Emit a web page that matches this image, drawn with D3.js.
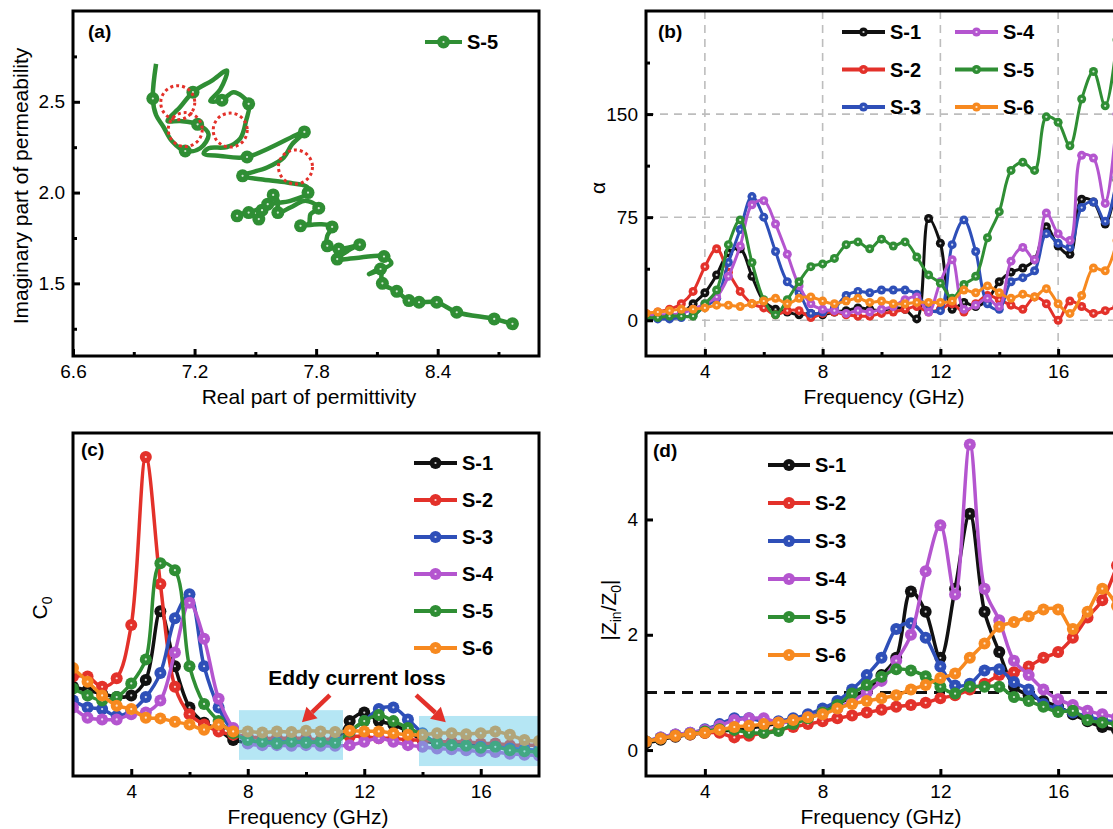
<!DOCTYPE html>
<meta charset="utf-8">
<script src="https://d3js.org/d3.v7.min.js"></script>
<style>
  body{margin:0;background:#fff;}
  svg text{font-family:"Liberation Sans",Arial,Helvetica,sans-serif;}
</style>
<div id="chart"></div>
<script>
// ---------- data ----------
var names = ["S-1","S-2","S-3","S-4","S-5","S-6"]
var colors = ["#111111","#E3312A","#2E4FB8","#B455CF","#2F8E34","#F7891F"]

// (a) Cole-Cole style path for S-5 : real part of permittivity vs imaginary part of permeability
var aPathReal = [7.010,6.994,7.010,7.047,7.088,7.154,7.228,7.269,7.215,7.129,7.067,7.129,7.192,7.286,7.360,7.327,7.278,7.335,7.393,7.467,
  7.454,7.426,7.360,7.269,7.245,7.327,7.459,7.742,7.681,7.640,7.558,7.437,7.525,7.657,7.756,7.760,7.673,7.574,7.541,7.410,
  7.467,7.517,7.533,7.561,7.588,7.611,7.611,7.673,7.739,7.780,7.813,7.772,7.764,7.723,7.822,7.879,7.855,7.855,7.912,7.962,
  8.015,7.962,7.904,8.019,8.135,8.171,8.061,8.118,8.127,8.198,8.258,8.308,8.395,8.494,8.679,8.769]
var aPathImag = [2.709,2.518,2.427,2.361,2.284,2.229,2.244,2.321,2.376,2.394,2.394,2.471,2.553,2.617,2.672,2.568,2.504,2.509,2.553,2.489,
  2.394,2.299,2.251,2.244,2.215,2.202,2.196,2.334,2.266,2.193,2.138,2.092,2.073,2.055,2.031,2.000,1.954,1.936,1.918,1.872,
  1.890,1.854,1.903,1.936,1.987,1.954,1.890,1.918,1.954,1.945,1.914,1.881,1.830,1.817,1.826,1.811,1.762,1.707,1.689,1.698,
  1.713,1.683,1.634,1.643,1.648,1.610,1.551,1.579,1.500,1.456,1.405,1.396,1.396,1.341,1.304,1.277]
var aMarkReal = [6.994,7.154,7.215,7.192,7.335,7.467,7.459,7.742,7.437,7.760,7.410,7.467,7.517,7.533,7.561,7.588,7.611,7.813,
  7.723,7.879,7.855,7.912,8.015,7.904,8.135,8.118,8.127,8.198,8.258,8.308,8.395,8.494,8.679,8.769]
var aMarkImag = [2.518,2.229,2.376,2.553,2.509,2.489,2.196,2.334,2.092,2.000,1.872,1.890,1.854,1.903,1.936,1.987,1.890,1.914,
  1.817,1.811,1.707,1.689,1.713,1.634,1.648,1.579,1.500,1.456,1.405,1.396,1.396,1.341,1.304,1.277]
var aCircleReal = [7.117,7.154,7.376,7.698]
var aCircleImag = [2.495,2.347,2.344,2.141]

// (b) attenuation constant alpha
var bFreq = [2,2.4,2.8,3.2,3.6,4,4.4,4.8,5.2,5.6,6,6.4,6.8,7.2,7.6,8,8.4,8.8,9.2,9.6,10,10.4,10.8,11.2,11.6,12,
  12.4,12.8,13.2,13.6,14,14.4,14.8,15.2,15.6,16,16.4,16.8,17.2,17.6,18]
var bS1 = [2,2,3,5,12,20,33,49,52,32,14,8,6,4,5,4,6,7,9,8,7,9,8,1,74,56,8,13,10,15,28,35,38,44,68,54,48,88,86,70,102]
var bS2 = [5,6,8,12,21,39,52,35,21,12,9,4,7,7,2,5,6,4,3,3,5,6,8,10,6,8,12,6,12,18,15,11,8,17,12,0,14,10,5,7,10]
var bS3 = [2,1,1,2,4,10,16,42,66,90,75,50,28,20,5,6,9,18,21,20,22,22,22,19,8,7,55,73,50,12,8,28,31,36,63,56,53,82,86,72,104]
var bS4 = [3,4,4,5,8,12,17,32,54,84,87,70,48,25,12,8,7,5,7,6,8,10,15,17,6,28,44,8,11,16,10,43,53,44,78,63,58,120,118,85,150]
var bS5 = [2,2,3,3,3,12,22,55,73,42,15,4,15,28,39,41,45,55,57,52,59,54,57,46,33,27,16,26,32,60,79,109,115,109,148,144,127,161,181,156,204]
var bS6 = [5,6,7,8,8,9,11,11,10,12,14,16,12,16,17,14,12,14,16,13,14,12,12,13,13,13,14,22,20,25,20,16,19,17,23,12,5,18,38,36,58]

// (c) C0 (arbitrary units, no ticks on the axis) and (d) |Zin/Z0|
var cdFreq = [2,2.5,3,3.5,4,4.5,5,5.5,6,6.5,7,7.5,8,8.5,9,9.5,10,10.5,11,11.5,12,12.5,13,13.5,14,14.5,15,15.5,16,16.5,17,17.5,18]
var cS1 = [2.6,2.5,2.4,2.3,2.35,2.8,4.8,3.2,2.0,1.55,1.35,1.05,0.98,1.0,0.98,1.0,0.98,0.95,0.98,1.6,1.85,1.6,1.5,1.3,1.05,0.95,0.92,0.9,0.88,0.88,0.8,0.75,0.72]
var cS2 = [2.9,2.9,2.6,2.85,4.4,9.3,5.6,2.6,1.8,1.5,1.3,1.2,1.15,1.1,1.1,1.1,1.1,1.05,1.1,1.15,1.15,1.1,1.1,1.05,1.05,1.0,1.0,1.0,0.95,0.95,0.9,0.9,0.9]
var cS3 = [2.2,2.0,1.95,1.75,1.9,2.3,3.0,4.6,5.3,3.2,2.0,1.3,1.05,1.0,0.98,1.0,1.0,0.98,1.0,1.3,1.6,1.95,2.0,1.65,1.25,0.95,0.9,0.88,0.85,0.85,0.8,0.78,0.75]
var cS4 = [2.0,1.7,1.65,1.65,1.8,1.85,2.2,3.6,5.05,4.0,2.25,1.4,0.95,0.9,0.9,0.88,0.9,0.88,0.88,0.9,1.0,1.1,1.0,0.9,0.85,0.8,0.78,0.75,0.72,0.7,0.65,0.62,0.6]
var cS5 = [2.55,2.35,2.2,2.3,2.7,3.4,6.2,6.0,3.2,2.1,1.6,1.25,1.05,1.0,0.95,1.0,0.97,1.0,0.97,1.3,1.6,1.78,1.6,1.4,1.2,0.95,0.9,0.88,0.82,0.85,0.75,0.72,0.7]
var cS6 = [3.15,2.75,2.35,2.05,1.95,1.7,1.68,1.58,1.5,1.35,1.5,1.3,1.3,1.27,1.3,1.28,1.32,1.3,1.28,1.32,1.3,1.3,1.25,1.2,1.2,1.25,1.25,1.22,1.25,1.3,1.2,1.05,1.02]
var cBoxF = [[7.7,11.27],[13.88,18.2]]
var cBoxV = [[0.47,1.92],[0.29,1.75]]
var cArrowF = [[10.82,9.86],[13.78,14.8]]
var cArrowV = [[2.36,1.57],[2.36,1.57]]

var dS1 = [0.12,0.18,0.23,0.27,0.3,0.33,0.35,0.38,0.42,0.47,0.53,0.6,0.68,0.8,0.92,1.05,1.3,1.6,2.75,2.4,1.6,2.8,4.1,2.4,1.7,1.1,0.95,0.85,0.75,0.62,0.5,0.4,0.35]
var dS2 = [0.15,0.2,0.24,0.27,0.3,0.3,0.22,0.25,0.3,0.35,0.4,0.45,0.5,0.55,0.6,0.65,0.7,0.75,0.78,0.82,0.9,0.95,1.05,1.15,1.3,1.35,1.45,1.6,1.7,1.95,2.3,2.6,3.2]
var dS3 = [0.15,0.22,0.27,0.3,0.36,0.45,0.55,0.55,0.5,0.5,0.55,0.62,0.72,0.85,1.05,1.3,1.6,2.1,2.2,1.95,1.45,1.12,1.15,1.38,1.4,1.18,1.05,0.8,0.72,0.65,0.58,0.52,0.48]
var dS4 = [0.15,0.22,0.27,0.3,0.35,0.42,0.52,0.55,0.55,0.48,0.5,0.57,0.65,0.72,0.85,1.0,1.2,1.55,2.0,3.1,3.9,2.7,5.3,2.8,2.25,1.55,1.3,1.05,0.88,0.78,0.68,0.62,0.57]
var dS5 = [0.15,0.2,0.25,0.28,0.32,0.36,0.35,0.3,0.3,0.33,0.45,0.55,0.65,0.78,0.98,1.13,1.27,1.4,1.38,1.28,1.1,0.98,1.1,1.1,1.1,0.92,0.85,0.75,0.66,0.68,0.52,0.48,0.45]
var dS6 = [0.15,0.2,0.25,0.28,0.3,0.35,0.4,0.42,0.45,0.48,0.52,0.57,0.62,0.72,0.8,0.85,0.9,0.95,1.05,1.13,1.25,1.33,1.6,1.85,2.14,2.22,2.32,2.44,2.44,2.1,2.4,2.8,2.5]

// ---------- layout ----------
const svg = d3.select("#chart").append("svg").attr("width",1113).attr("height",829)
svg.append("rect").attr("width",1113).attr("height",829).attr("fill","#fff")

const boxA = {x0:73, x1:539, y0:11, y1:356}
const boxB = {x0:646, x1:1117, y0:11, y1:356}
const boxC = {x0:73, x1:539, y0:433, y1:776}
const boxD = {x0:646, x1:1117, y0:433, y1:776}

const xA = d3.scaleLinear().domain([6.6,8.9]).range([boxA.x0,boxA.x1])
const yA = d3.scaleLinear().domain([1.1,3.0]).range([boxA.y1,boxA.y0])
const xB = d3.scaleLinear().domain([2,18]).range([boxB.x0,boxB.x1])
const yB = d3.scaleLinear().domain([-26,225]).range([boxB.y1,boxB.y0])
const xC = d3.scaleLinear().domain([2,18]).range([boxC.x0,boxC.x1])
const yC = d3.scaleLinear().domain([0,10]).range([boxC.y1,boxC.y0])
const xD = d3.scaleLinear().domain([2,18]).range([boxD.x0,boxD.x1])
const yD = d3.scaleLinear().domain([-0.45,5.5]).range([boxD.y1,boxD.y0])

function clip(id, box){
  svg.append("clipPath").attr("id",id).append("rect")
    .attr("x",box.x0).attr("y",box.y0).attr("width",box.x1-box.x0).attr("height",box.y1-box.y0)
  return svg.append("g").attr("clip-path","url(#"+id+")")
}

function styleAxis(sel){
  sel.select(".domain").remove()
  sel.selectAll(".tick line").attr("stroke","#000").attr("stroke-width",3)
  sel.selectAll(".tick text").attr("fill","#000").style("font-size","19px")
    .style("font-family",'"Liberation Sans",Arial,sans-serif')
}

function axes(box, x, y, o){
  var g = svg.append("g")
  styleAxis(g.append("g").attr("transform","translate(0,"+box.y1+")")
    .call(d3.axisBottom(x).tickValues(o.xMajor).tickSize(-7).tickPadding(9).tickFormat(o.xFmt)))
  if(o.xMinor) styleAxis(g.append("g").attr("transform","translate(0,"+box.y1+")")
    .call(d3.axisBottom(x).tickValues(o.xMinor).tickSize(-4).tickFormat("")))
  if(o.yMajor) styleAxis(g.append("g").attr("transform","translate("+box.x0+",0)")
    .call(d3.axisLeft(y).tickValues(o.yMajor).tickSize(-7).tickPadding(8).tickFormat(o.yFmt)))
  if(o.yMinor) styleAxis(g.append("g").attr("transform","translate("+box.x0+",0)")
    .call(d3.axisLeft(y).tickValues(o.yMinor).tickSize(-4).tickFormat("")))
  g.append("rect").attr("x",box.x0).attr("y",box.y0).attr("width",box.x1-box.x0).attr("height",box.y1-box.y0)
    .attr("fill","none").attr("stroke","#000").attr("stroke-width",3)
}

function marker(g, cx, cy, r, color){
  g.append("circle").attr("cx",cx).attr("cy",cy).attr("r",r).attr("fill",color)
  g.append("circle").attr("cx",cx).attr("cy",cy).attr("r",1.1).attr("fill","#fff").attr("opacity",0.8)
}

function series(g, x, y, freq, vals, color, r, lw){
  var pts = freq.map(function(f,i){ return [f, vals[i]] })
  g.append("path").datum(pts).attr("fill","none").attr("stroke",color).attr("stroke-width",lw)
    .attr("stroke-linejoin","round")
    .attr("d", d3.line().x(d => x(d[0])).y(d => y(d[1])).curve(d3.curveCatmullRom.alpha(0.5)))
  pts.forEach(function(d){ marker(g, x(d[0]), y(d[1]), r, color) })
}

function legendItem(x0, x1, y, name, color, r){
  svg.append("line").attr("x1",x0).attr("x2",x1).attr("y1",y).attr("y2",y)
    .attr("stroke",color).attr("stroke-width",4)
  marker(svg, (x0+x1)/2, y, r, color)
  svg.append("text").attr("x",x1+5).attr("y",y+7).text(name)
    .style("font-size","20px").style("font-weight","bold").attr("fill","#000")
}

function label(x, y, txt, size, bold, anchor){
  return svg.append("text").attr("x",x).attr("y",y).text(txt).attr("fill","#000")
    .style("font-size",size+"px").style("font-weight",bold ? "bold" : "normal")
    .attr("text-anchor",anchor || "start")
}

function yTitle(x, y){
  return svg.append("text").attr("transform","translate("+x+","+y+") rotate(-90)")
    .attr("text-anchor","middle").attr("fill","#000").style("font-size","21px")
}

// ---------- (a) ----------
var gA = clip("clipA", boxA)
gA.append("path").datum(aPathReal.map((v,i) => [v, aPathImag[i]]))
  .attr("fill","none").attr("stroke",colors[4]).attr("stroke-width",4.5).attr("stroke-linejoin","round")
  .attr("d", d3.line().x(d => xA(d[0])).y(d => yA(d[1])).curve(d3.curveCatmullRom.alpha(0.5)))
aMarkReal.forEach((v,i) => marker(gA, xA(v), yA(aMarkImag[i]), 6.5, colors[4]))
aCircleReal.forEach(function(v,i){
  gA.append("circle").attr("cx",xA(v)).attr("cy",yA(aCircleImag[i])).attr("r",17)
    .attr("fill","none").attr("stroke","#E3312A").attr("stroke-width",3).attr("stroke-dasharray","3,3")
})
axes(boxA, xA, yA, {xMajor:[6.6,7.2,7.8,8.4], xMinor:[6.9,7.5,8.1,8.7], xFmt:d3.format(".1f"),
  yMajor:[1.5,2.0,2.5], yMinor:[1.25,1.75,2.25,2.75], yFmt:d3.format(".1f")})
legendItem(425, 462, 42, "S-5", colors[4], 6.5)
label(88, 38, "(a)", 19, true)
label(309, 404, "Real part of permittivity", 21, false, "middle")
yTitle(28, 186).text("Imaginary part of permeability")

// ---------- (b) ----------
var gridB = svg.append("g")
;[4,8,12,16].forEach(function(f){
  gridB.append("line").attr("x1",xB(f)).attr("x2",xB(f)).attr("y1",boxB.y0).attr("y2",boxB.y1)
    .attr("stroke","#bdbdbd").attr("stroke-width",1.6).attr("stroke-dasharray","8,6")
})
;[0,75,150].forEach(function(v){
  gridB.append("line").attr("x1",boxB.x0).attr("x2",boxB.x1).attr("y1",yB(v)).attr("y2",yB(v))
    .attr("stroke","#bdbdbd").attr("stroke-width",1.6).attr("stroke-dasharray","8,6")
})
var gB = clip("clipB", boxB)
;[bS1,bS2,bS3,bS4,bS5,bS6].forEach((s,i) => series(gB, xB, yB, bFreq, s, colors[i], 4.5, 3))
axes(boxB, xB, yB, {xMajor:[4,8,12,16], xMinor:[6,10,14], xFmt:d3.format("d"),
  yMajor:[0,75,150], yMinor:[37.5,112.5,187.5], yFmt:d3.format("d")})
names.forEach(function(n,i){
  var col = i < 3 ? 0 : 1, row = i % 3
  legendItem(col ? 955 : 842, col ? 998 : 885, 32 + row*37.5, n, colors[i], 4.5)
})
label(658, 38, "(b)", 19, true)
label(884, 404, "Frequency (GHz)", 21, false, "middle")
yTitle(605, 188).text("α")

// ---------- (c) ----------
var gC = clip("clipC", boxC)
;[cS1,cS2,cS3,cS4,cS5,cS6].forEach((s,i) => series(gC, xC, yC, cdFreq, s, colors[i], 6, 3.5))
cBoxF.forEach(function(f,i){
  gC.append("rect").attr("x",xC(f[0])).attr("width",xC(f[1])-xC(f[0]))
    .attr("y",yC(cBoxV[i][1])).attr("height",yC(cBoxV[i][0])-yC(cBoxV[i][1]))
    .attr("fill","#5BC8E6").attr("opacity",0.45)
})
cArrowF.forEach(function(f,i){
  var x0 = xC(f[0]), y0 = yC(cArrowV[i][0]), x1 = xC(f[1]), y1 = yC(cArrowV[i][1])
  var ang = Math.atan2(y1-y0, x1-x0), L = 14, Wd = 8
  var bx = x1 - L*Math.cos(ang), by = y1 - L*Math.sin(ang)
  svg.append("line").attr("x1",x0).attr("y1",y0).attr("x2",bx).attr("y2",by)
    .attr("stroke","#E3312A").attr("stroke-width",4.5)
  svg.append("polygon").attr("fill","#E3312A").attr("points",[
    [x1,y1],
    [bx + Wd*Math.sin(ang), by - Wd*Math.cos(ang)],
    [bx - Wd*Math.sin(ang), by + Wd*Math.cos(ang)]].map(p => p.join(",")).join(" "))
})
label(357, 685, "Eddy current loss", 21, true, "middle")
axes(boxC, xC, yC, {xMajor:[4,8,12,16], xMinor:[6,10,14], xFmt:d3.format("d")})
names.forEach((n,i) => legendItem(414, 457, 463 + i*37, n, colors[i], 6))
label(81, 456, "(c)", 19, true)
label(308, 824, "Frequency (GHz)", 21, false, "middle")
var tc = yTitle(47, 608)
tc.append("tspan").text("C")
tc.append("tspan").text("0").attr("dy",5).style("font-size","14px")

// ---------- (d) ----------
var gD = clip("clipD", boxD)
gD.append("line").attr("x1",boxD.x0).attr("x2",boxD.x1).attr("y1",yD(1)).attr("y2",yD(1))
  .attr("stroke","#111").attr("stroke-width",3).attr("stroke-dasharray","11,7")
;[dS1,dS2,dS3,dS4,dS5,dS6].forEach((s,i) => series(gD, xD, yD, cdFreq, s, colors[i], 6, 3.5))
axes(boxD, xD, yD, {xMajor:[4,8,12,16], xFmt:d3.format("d"), yMajor:[0,2,4], yFmt:d3.format("d")})
names.forEach((n,i) => legendItem(768, 810, 465 + i*38, n, colors[i], 6))
label(653, 457, "(d)", 19, true)
label(881, 824, "Frequency (GHz)", 21, false, "middle")
var td = yTitle(616, 610)
td.append("tspan").text("|Z")
td.append("tspan").text("in").attr("dy",5).style("font-size","14px")
td.append("tspan").text("/Z").attr("dy",-5)
td.append("tspan").text("0").attr("dy",5).style("font-size","14px")
td.append("tspan").text("|").attr("dy",-5)
</script>
